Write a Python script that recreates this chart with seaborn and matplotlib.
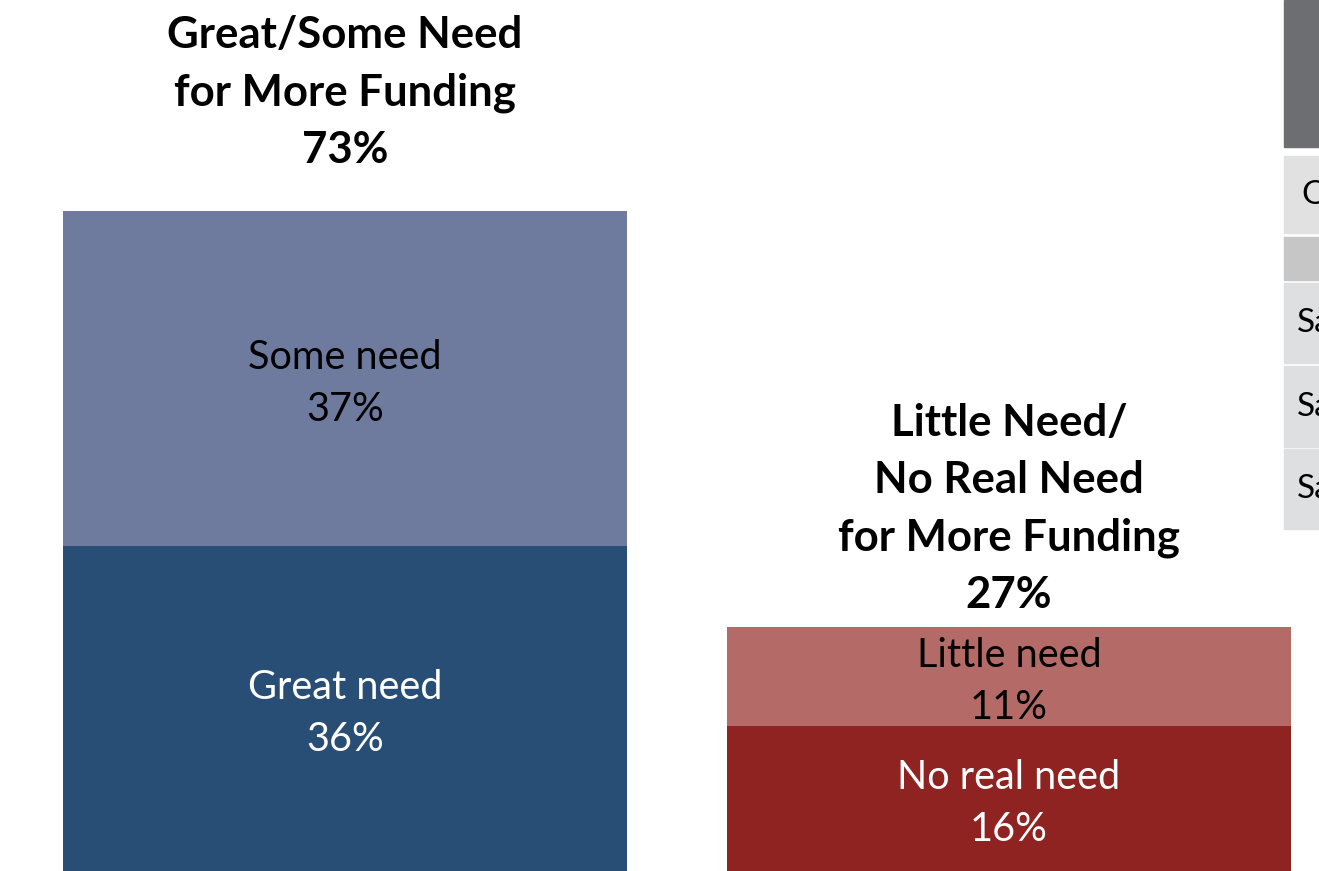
import pandas as pd
import matplotlib.pyplot as plt
import matplotlib.transforms as mtransforms
from matplotlib.patches import Rectangle
import seaborn as sns

# datos del grafico
grupos = ['Great/Some Need', 'Little/No Real Need']
titulos = ['Great/Some Need\nfor More Funding\n73%',
           'Little Need/\nNo Real Need\nfor More Funding\n27%']
base_etiquetas = ['Great need', 'No real need']
base_valores = [36, 16]
arriba_etiquetas = ['Some need', 'Little need']
arriba_valores = [37, 11]

# fragmento de tabla cortado a la derecha
tabla_textos = ['', 'O', '', 'Sa', 'Sa', 'Sa']

df = pd.DataFrame({'grupo': grupos,
                   'base': base_valores,
                   'arriba': arriba_valores})
df['total'] = df['base'] + df['arriba']

sns.set_theme(style='white')
plt.rcParams['font.family'] = ['Lato', 'DejaVu Sans']

fig = plt.figure(figsize=(13.19, 8.71), dpi=100)
ax = fig.add_axes([0, 0, 1, 1])

sns.barplot(data=df, x='grupo', y='total', hue='grupo', palette=['#6e7b9e', '#b46b68'],
            width=0.85, saturation=1, legend=False, linewidth=0, ax=ax)
sns.barplot(data=df, x='grupo', y='base', hue='grupo', palette=['#284e76', '#8e2321'],
            width=0.85, saturation=1, legend=False, linewidth=0, ax=ax)

ax.set_xlim(-0.5196, 1.4669)
ax.set_ylim(0, 871 / 9.04)
ax.axis('off')

# etiquetas de segmentos (un poco mas abajo del centro, como el original)
col_base = ['white', 'white']
col_arriba = ['black', 'black']
tr_seg = mtransforms.offset_copy(ax.transData, fig=fig, x=0, y=-5, units='dots')
for i, fila in df.iterrows():
    ax.text(i, fila['base'] / 2, f"{base_etiquetas[i]}\n{fila['base']}%", ha='center', va='center',
            fontsize=28.5, color=col_base[i], linespacing=1.5, transform=tr_seg)
    ax.text(i, fila['base'] + fila['arriba'] / 2, f"{arriba_etiquetas[i]}\n{fila['arriba']}%",
            ha='center', va='center', fontsize=28.5, color=col_arriba[i], linespacing=1.5,
            transform=tr_seg)

# titulos encima de cada barra
desplazamiento = [41, 12]
for i, fila in df.iterrows():
    tr = mtransforms.offset_copy(ax.transData, fig=fig, x=0, y=desplazamiento[i], units='dots')
    ax.text(i, fila['total'], titulos[i], ha='center', va='bottom', fontsize=31.5,
            fontweight='bold', color='black', linespacing=1.52, transform=tr)

# tabla (cortada)
filas_y = [(0, 147), (156, 233), (237, 280), (283, 363), (366, 447), (449, 529)]
filas_col = ['#6d6e71', '#e1e1e1', '#c6c6c7', '#dedfe0', '#dedfe0', '#dedfe0']
texto_x = [0, 1301, 0, 1297, 1297, 1297]
W, H = 1319, 871
for (y0, y1), c, t, tx in zip(filas_y, filas_col, tabla_textos, texto_x):
    fig.patches.append(Rectangle((1284 / W, 1 - y1 / H), 60 / W, (y1 - y0) / H,
                                 transform=fig.transFigure, color=c, zorder=0))
    if t:
        fig.text(tx / W, 1 - (y0 + y1) / 2 / H, t, ha='left', va='center', fontsize=24, color='black')

plt.savefig('out.png', dpi=100)
